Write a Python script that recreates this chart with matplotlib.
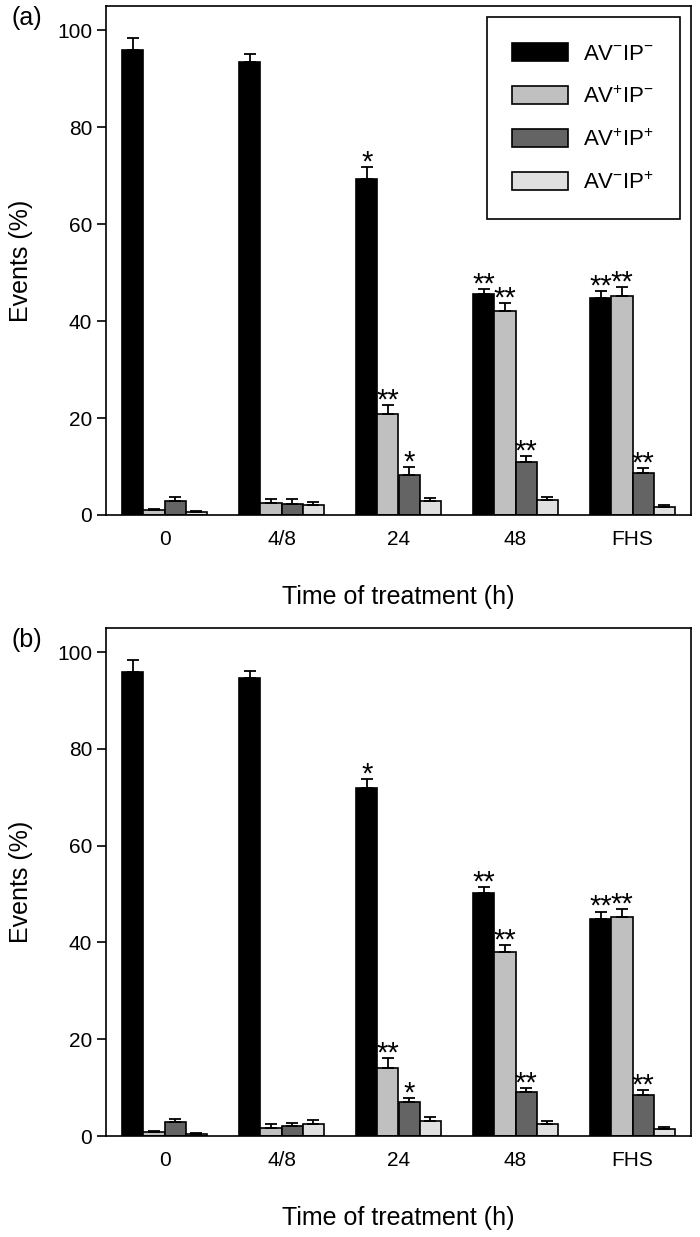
import numpy as np
import matplotlib
matplotlib.use('Agg')
import matplotlib.pyplot as plt

plt.rcParams['font.family'] = ['Liberation Sans', 'DejaVu Sans']
plt.rcParams['mathtext.default'] = 'regular'

groups = ['0', '4/8', '24', '48', 'FHS']
series_labels = [r'AV$^{-}$IP$^{-}$', r'AV$^{+}$IP$^{-}$', r'AV$^{+}$IP$^{+}$', r'AV$^{-}$IP$^{+}$']
colors = ['#000000', '#c0c0c0', '#646464', '#e0e0e0']

# panel (a)
a_nn = [95.9, 93.5, 69.3, 45.5, 44.7]
a_pn = [1.0, 2.5, 20.8, 42.0, 45.2]
a_pp = [2.9, 2.3, 8.2, 10.9, 8.6]
a_np = [0.6, 2.0, 2.9, 3.1, 1.6]
a_nn_err = [2.4, 1.7, 2.5, 1.2, 1.5]
a_pn_err = [0.3, 0.9, 1.8, 1.8, 1.8]
a_pp_err = [0.8, 1.0, 1.6, 1.2, 1.0]
a_np_err = [0.2, 0.6, 0.7, 0.7, 0.5]

# panel (b)
b_nn = [95.9, 94.6, 72.0, 50.3, 44.8]
b_pn = [0.8, 1.7, 14.0, 38.0, 45.2]
b_pp = [2.8, 2.1, 7.0, 9.0, 8.5]
b_np = [0.5, 2.5, 3.0, 2.5, 1.4]
b_nn_err = [2.4, 1.5, 1.7, 1.2, 1.6]
b_pn_err = [0.3, 0.8, 2.1, 1.4, 1.8]
b_pp_err = [0.8, 0.6, 0.9, 1.0, 1.0]
b_np_err = [0.2, 0.8, 0.9, 0.5, 0.5]

# significance marks, same for both panels
stars_nn = ['', '', '*', '**', '**']
stars_pn = ['', '', '**', '**', '**']
stars_pp = ['', '', '*', '**', '**']
stars_np = ['', '', '', '', '']


def draw_panel(ax, vals, errs, tag, legend=False):
    x = np.arange(len(groups))
    w = 0.18
    stars = [stars_nn, stars_pn, stars_pp, stars_np]
    for i in range(4):
        xi = x + (i - 1.5) * w
        ax.bar(xi, vals[i], w, color=colors[i], edgecolor='black', linewidth=1.2,
               label=series_labels[i], zorder=2)
        ax.errorbar(xi, vals[i], yerr=[np.zeros(len(groups)), errs[i]], fmt='none',
                    ecolor='black', elinewidth=1.3, capsize=4, capthick=1.3, zorder=3)
        for j in range(len(groups)):
            if stars[i][j]:
                ax.annotate(stars[i][j], (xi[j], vals[i][j] + errs[i][j]),
                            xytext=(0, -2.5), textcoords='offset points',
                            ha='center', va='baseline', fontsize=21)
    ax.set_xlim(-0.5, 4.5)
    ax.set_ylim(0, 105)
    ax.set_yticks([0, 20, 40, 60, 80, 100])
    ax.set_xticks(x)
    ax.set_xticklabels(groups)
    ax.tick_params(axis='y', direction='out', length=6.5, width=1.2, pad=3.5, labelsize=15)
    ax.tick_params(axis='x', length=0, pad=11, labelsize=15)
    for s in ax.spines.values():
        s.set_linewidth(1.2)
    ax.set_xlabel('Time of treatment (h)', fontsize=18, va='center')
    ax.xaxis.set_label_coords(0.5, -82 / 509)
    ax.set_ylabel('Events (%)', fontsize=18, va='center')
    ax.yaxis.set_label_coords(-85 / 585, 0.5)
    ax.text(-0.135, 1.0, tag, transform=ax.transAxes, fontsize=18,
            ha='center', va='top')
    if legend:
        leg = ax.legend(loc='upper right', fontsize=16, frameon=True, fancybox=False,
                        edgecolor='black', framealpha=1, handlelength=2.5,
                        handleheight=0.9, labelspacing=0.95, borderpad=1.15,
                        handletextpad=0.7, borderaxespad=0.5)
        leg.get_frame().set_linewidth(1.2)


fig = plt.figure(figsize=(7, 12.37), dpi=100)
ax1 = fig.add_axes([106 / 700, 1 - 515 / 1237, 585 / 700, 509 / 1237])
ax2 = fig.add_axes([106 / 700, 1 - 1136 / 1237, 585 / 700, 508 / 1237])

draw_panel(ax1, [a_nn, a_pn, a_pp, a_np], [a_nn_err, a_pn_err, a_pp_err, a_np_err], '(a)', legend=True)
draw_panel(ax2, [b_nn, b_pn, b_pp, b_np], [b_nn_err, b_pn_err, b_pp_err, b_np_err], '(b)')

fig.savefig('out.png', dpi=100)
